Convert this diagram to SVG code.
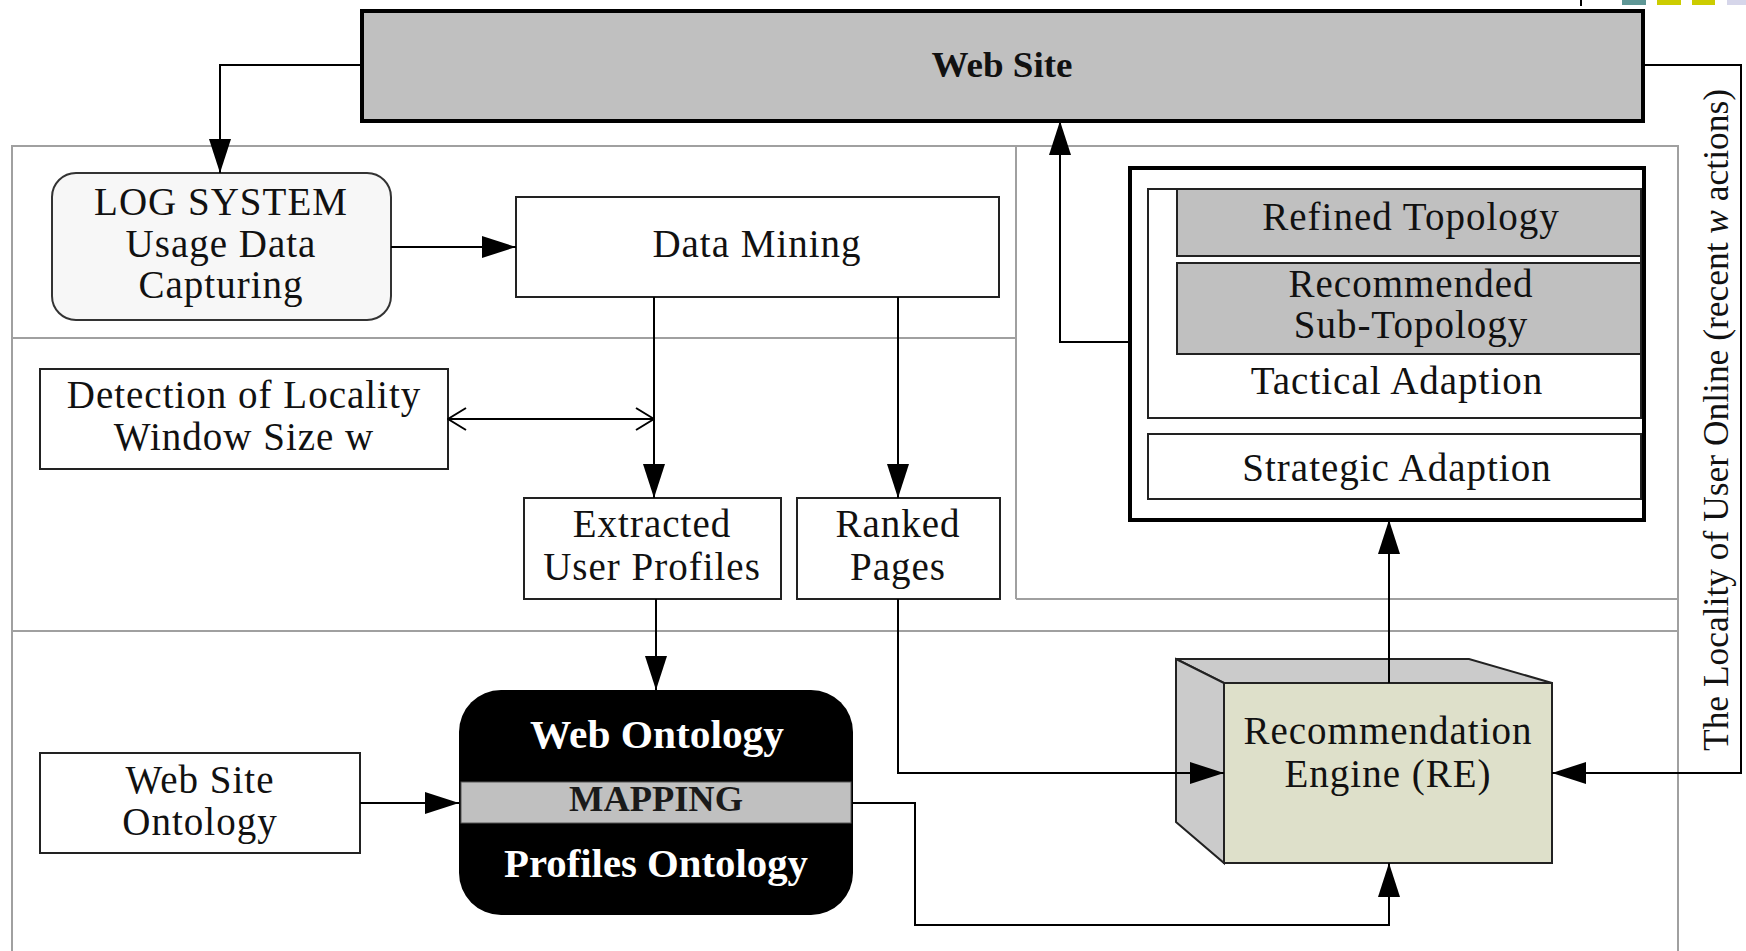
<svg xmlns="http://www.w3.org/2000/svg" width="1746" height="951" viewBox="0 0 1746 951">
<defs>
<marker id="arr" markerUnits="userSpaceOnUse" markerWidth="34" markerHeight="22" refX="34" refY="11" orient="auto">
<path d="M0,0 L34,11 L0,22 z" fill="#000"/>
</marker>
<marker id="chev" markerUnits="userSpaceOnUse" markerWidth="20" markerHeight="24" refX="19" refY="12" orient="auto-start-reverse">
<path d="M1,1 L19,12 L1,23" fill="none" stroke="#000" stroke-width="2"/>
</marker>
</defs>
<style>
.t{font-family:"Liberation Serif","Times New Roman",serif;font-size:39px;fill:#111;text-anchor:middle;letter-spacing:1px}
.b{font-family:"Liberation Serif","Times New Roman",serif;font-weight:bold;text-anchor:middle}
.box{fill:#fff;stroke:#222;stroke-width:2}
.gbox{fill:#c0c0c0;stroke:#222;stroke-width:2}
.lane{fill:none;stroke:#a0a0a0;stroke-width:2}
.con{fill:none;stroke:#000;stroke-width:2}
</style>
<rect width="1746" height="951" fill="#fff"/>
<g id="decor">
<line x1="1581" y1="0" x2="1581" y2="6" stroke="#000" stroke-width="2"/>
<rect x="1622" y="0" width="24" height="5" fill="#5f9796"/>
<rect x="1657" y="0" width="24" height="5" fill="#cccc00"/>
<rect x="1692" y="0" width="23" height="5" fill="#cccc00"/>
<rect x="1727" y="0" width="19" height="5" fill="#d6d6ea"/>
</g>
<g id="lanes">
<path class="lane" d="M12,951 V146 H1678 V951"/>
<line class="lane" x1="12" y1="338" x2="1016" y2="338"/>
<line class="lane" x1="1016" y1="146" x2="1016" y2="599"/>
<line class="lane" x1="1016" y1="599" x2="1678" y2="599"/>
<line class="lane" x1="12" y1="631" x2="1678" y2="631"/>
</g>
<g id="websiteNode">
<rect x="362" y="11" width="1281" height="110" fill="#c0c0c0" stroke="#000" stroke-width="4"/>
<text class="b" x="1002" y="77" font-size="35" fill="#111" textLength="141" lengthAdjust="spacingAndGlyphs">Web Site</text>
</g>
<g id="logSystem">
<rect x="52" y="173" width="339" height="147" rx="24" fill="#f7f7f7" stroke="#333" stroke-width="2"/>
<text class="t" x="221" y="215">LOG SYSTEM</text>
<text class="t" x="221" y="257">Usage Data</text>
<text class="t" x="221" y="298">Capturing</text>
</g>
<g id="dataMining">
<rect class="box" x="516" y="197" width="483" height="100"/>
<text class="t" x="757" y="257">Data Mining</text>
</g>
<g id="detection">
<rect class="box" x="40" y="369" width="408" height="100"/>
<text class="t" x="244" y="408">Detection of Locality</text>
<text class="t" x="244" y="450">Window Size w</text>
</g>
<g id="extracted">
<rect class="box" x="524" y="498" width="257" height="101"/>
<text class="t" x="652" y="537">Extracted</text>
<text class="t" x="652" y="580">User Profiles</text>
</g>
<g id="ranked">
<rect class="box" x="797" y="498" width="203" height="101"/>
<text class="t" x="898" y="537">Ranked</text>
<text class="t" x="898" y="580">Pages</text>
</g>
<g id="webSiteOntology">
<rect class="box" x="40" y="753" width="320" height="100"/>
<text class="t" x="200" y="793">Web Site</text>
<text class="t" x="200" y="835">Ontology</text>
</g>
<g id="ontology">
<rect x="459" y="690" width="394" height="225" rx="42" fill="#000"/>
<rect x="461" y="782" width="390" height="41" fill="#c0c0c0" stroke="#555" stroke-width="1"/>
<text class="b" x="657" y="748" font-size="39" fill="#fff" textLength="254" lengthAdjust="spacingAndGlyphs">Web Ontology</text>
<text class="b" x="656" y="811" font-size="35" fill="#1a1a1a" textLength="174" lengthAdjust="spacingAndGlyphs">MAPPING</text>
<text class="b" x="656" y="877" font-size="39" fill="#fff" textLength="304" lengthAdjust="spacingAndGlyphs">Profiles Ontology</text>
</g>
<g id="adaption">
<rect x="1130" y="168" width="514" height="352" fill="#fff" stroke="#000" stroke-width="4"/>
<rect class="box" x="1148" y="189" width="493" height="229"/>
<rect class="gbox" x="1177" y="189" width="464" height="67"/>
<rect class="gbox" x="1177" y="263" width="464" height="91"/>
<text class="t" x="1411" y="230">Refined Topology</text>
<text class="t" x="1411" y="297">Recommended</text>
<text class="t" x="1411" y="338">Sub-Topology</text>
<text class="t" x="1397" y="394">Tactical Adaption</text>
<rect class="box" x="1148" y="434" width="493" height="65"/>
<text class="t" x="1397" y="481">Strategic Adaption</text>
</g>
<g id="recommendationEngine">
<polygon points="1176,659 1469,659 1552,683 1224,683" fill="#cbcbcb" stroke="#222" stroke-width="2"/>
<polygon points="1176,659 1224,683 1224,863 1176,822" fill="#cbcbcb" stroke="#222" stroke-width="2"/>
<rect x="1224" y="683" width="328" height="180" fill="#dee0ca" stroke="#222" stroke-width="2"/>
<text class="t" x="1388" y="744">Recommendation</text>
<text class="t" x="1388" y="787">Engine (RE)</text>
</g>
<g id="localityLabel">
<text transform="translate(1728,420) rotate(-90)" font-family="Liberation Serif, Times New Roman, serif" font-size="35" fill="#111" text-anchor="middle" textLength="662" lengthAdjust="spacingAndGlyphs">The Locality of User Online (recent <tspan font-style="italic">w</tspan> actions)</text>
</g>
<g id="connectors">
<path class="con" d="M362,65 H220 V173" marker-end="url(#arr)"/>
<path class="con" d="M391,247 H516" marker-end="url(#arr)"/>
<path class="con" d="M654,297 V498" marker-end="url(#arr)"/>
<path class="con" d="M898,297 V498" marker-end="url(#arr)"/>
<path class="con" d="M448,419 H654" marker-start="url(#chev)" marker-end="url(#chev)"/>
<path class="con" d="M656,599 V690" marker-end="url(#arr)"/>
<path class="con" d="M360,803 H459" marker-end="url(#arr)"/>
<path class="con" d="M853,803 H915 V925 H1389 V863" marker-end="url(#arr)"/>
<path class="con" d="M898,599 V773 H1224" marker-end="url(#arr)"/>
<path class="con" d="M1645,65 H1741 V773 H1552" marker-end="url(#arr)"/>
<path class="con" d="M1389,683 V520" marker-end="url(#arr)"/>
<path class="con" d="M1130,342 H1060 V121" marker-end="url(#arr)"/>
</g>
</svg>
